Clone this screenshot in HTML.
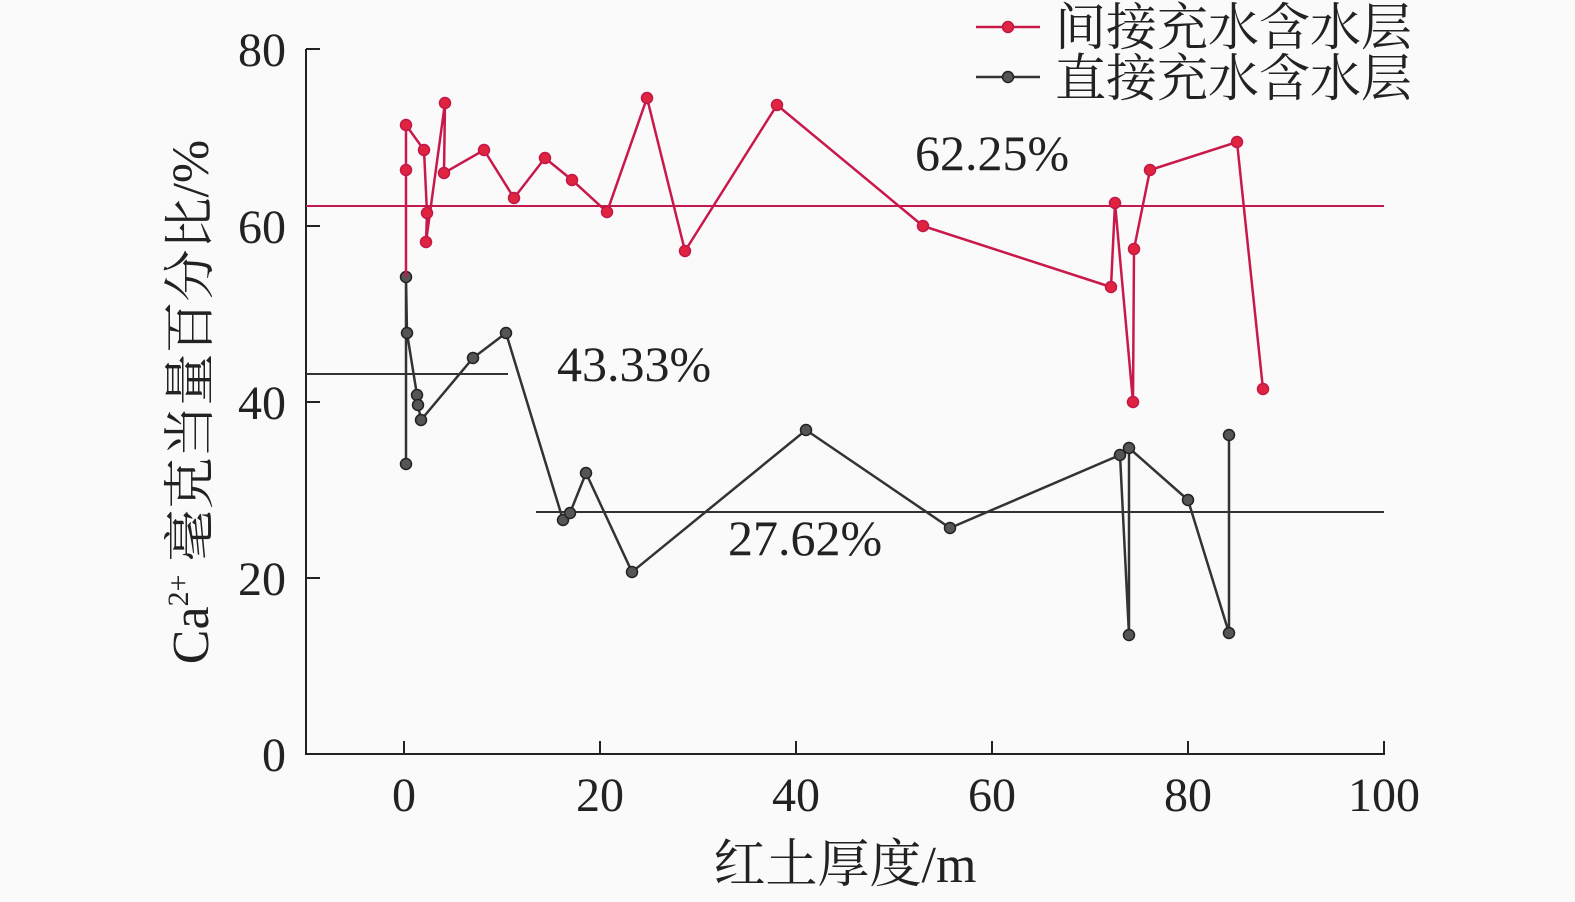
<!DOCTYPE html>
<html><head><meta charset="utf-8"><style>
html,body{margin:0;padding:0;background:#fff;}
svg{display:block;}
text{font-family:"Liberation Serif","Noto Serif CJK SC",serif;fill:#222;}
</style></head><body>
<svg width="1575" height="902" viewBox="0 0 1575 902">
<rect width="1575" height="902" fill="#fafafa"/>
<g stroke="#222" stroke-width="2" fill="none">
<line x1="306" y1="49" x2="306" y2="755"/>
<line x1="305" y1="754" x2="1385" y2="754"/>
<line x1="306" y1="49" x2="320" y2="49"/>
<line x1="306" y1="226" x2="320" y2="226"/>
<line x1="306" y1="402" x2="320" y2="402"/>
<line x1="306" y1="578" x2="320" y2="578"/>
<line x1="404" y1="754" x2="404" y2="741"/>
<line x1="600" y1="754" x2="600" y2="741"/>
<line x1="796" y1="754" x2="796" y2="741"/>
<line x1="992" y1="754" x2="992" y2="741"/>
<line x1="1188" y1="754" x2="1188" y2="741"/>
<line x1="1384" y1="754" x2="1384" y2="741"/>
</g>
<g font-size="48" text-anchor="end">
<text x="286" y="66">80</text>
<text x="286" y="243">60</text>
<text x="286" y="419">40</text>
<text x="286" y="595">20</text>
<text x="286" y="771">0</text>
</g>
<g font-size="48" text-anchor="middle">
<text x="404" y="811">0</text>
<text x="600" y="811">20</text>
<text x="796" y="811">40</text>
<text x="992" y="811">60</text>
<text x="1188" y="811">80</text>
<text x="1384" y="811">100</text>
</g>
<text x="845" y="882" font-size="52" text-anchor="middle">红土厚度/m</text>
<text transform="translate(208,402) rotate(-90)" font-size="52" text-anchor="middle">Ca<tspan font-size="30" dy="-20">2+</tspan><tspan dy="20"> 毫克当量百分比/%</tspan></text>
<g stroke-width="2">
<line x1="306" y1="206" x2="1384" y2="206" stroke="#c21a4c"/>
<line x1="306" y1="374" x2="508" y2="374" stroke="#333"/>
<line x1="536" y1="512" x2="1384" y2="512" stroke="#333"/>
</g>
<g font-size="50">
<text x="915" y="170">62.25%</text>
<text x="557" y="381">43.33%</text>
<text x="728" y="555">27.62%</text>
</g>
<g fill="none" stroke="#333" stroke-width="2.5">
<polyline points="406,464 406,277 407,333 417,395 418,405 421,420 473,358 506,333 563,520 570,513 586,473 632,572 806,430 950,528 1120,455 1129,635 1129,448 1188,500 1229,633 1229,435"/>
</g>
<g fill="#555" stroke="#222" stroke-width="1.5">
<circle cx="406" cy="277" r="5.5"/><circle cx="407" cy="333" r="5.5"/><circle cx="406" cy="464" r="5.5"/>
<circle cx="417" cy="395" r="5.5"/><circle cx="418" cy="405" r="5.5"/><circle cx="421" cy="420" r="5.5"/>
<circle cx="473" cy="358" r="5.5"/><circle cx="506" cy="333" r="5.5"/><circle cx="563" cy="520" r="5.5"/>
<circle cx="570" cy="513" r="5.5"/><circle cx="586" cy="473" r="5.5"/><circle cx="632" cy="572" r="5.5"/>
<circle cx="806" cy="430" r="5.5"/><circle cx="950" cy="528" r="5.5"/><circle cx="1120" cy="455" r="5.5"/>
<circle cx="1129" cy="635" r="5.5"/><circle cx="1129" cy="448" r="5.5"/><circle cx="1188" cy="500" r="5.5"/>
<circle cx="1229" cy="633" r="5.5"/><circle cx="1229" cy="435" r="5.5"/>
</g>
<g fill="none" stroke="#c8194a" stroke-width="2.5">
<polyline points="406,277 406,170 406,125 424,150 427,213 426,242 445,103 444,173 484,150 514,198 545,158 572,180 607,212 647,98 685,251 777,105 923,226 1111,287 1115,203 1133,402 1134,249 1150,170 1237,142 1263,389"/>
</g>
<g fill="#e0243f" stroke="#c01848" stroke-width="1.5">
<circle cx="406" cy="170" r="5.5"/><circle cx="406" cy="125" r="5.5"/><circle cx="424" cy="150" r="5.5"/>
<circle cx="427" cy="213" r="5.5"/><circle cx="426" cy="242" r="5.5"/><circle cx="445" cy="103" r="5.5"/>
<circle cx="444" cy="173" r="5.5"/><circle cx="484" cy="150" r="5.5"/><circle cx="514" cy="198" r="5.5"/>
<circle cx="545" cy="158" r="5.5"/><circle cx="572" cy="180" r="5.5"/><circle cx="607" cy="212" r="5.5"/>
<circle cx="647" cy="98" r="5.5"/><circle cx="685" cy="251" r="5.5"/><circle cx="777" cy="105" r="5.5"/>
<circle cx="923" cy="226" r="5.5"/><circle cx="1111" cy="287" r="5.5"/><circle cx="1115" cy="203" r="5.5"/>
<circle cx="1133" cy="402" r="5.5"/><circle cx="1134" cy="249" r="5.5"/><circle cx="1150" cy="170" r="5.5"/>
<circle cx="1237" cy="142" r="5.5"/><circle cx="1263" cy="389" r="5.5"/>
</g>
<line x1="976" y1="27" x2="1040" y2="27" stroke="#c8194a" stroke-width="2.5"/>
<circle cx="1008" cy="27" r="5.5" fill="#e0243f" stroke="#c01848" stroke-width="1.5"/>
<line x1="976" y1="77" x2="1040" y2="77" stroke="#333" stroke-width="2.5"/>
<circle cx="1008" cy="77" r="5.5" fill="#555" stroke="#222" stroke-width="1.5"/>
<g font-size="51">
<text x="1055" y="45">间接充水含水层</text>
<text x="1055" y="96">直接充水含水层</text>
</g>
</svg>
</body></html>
